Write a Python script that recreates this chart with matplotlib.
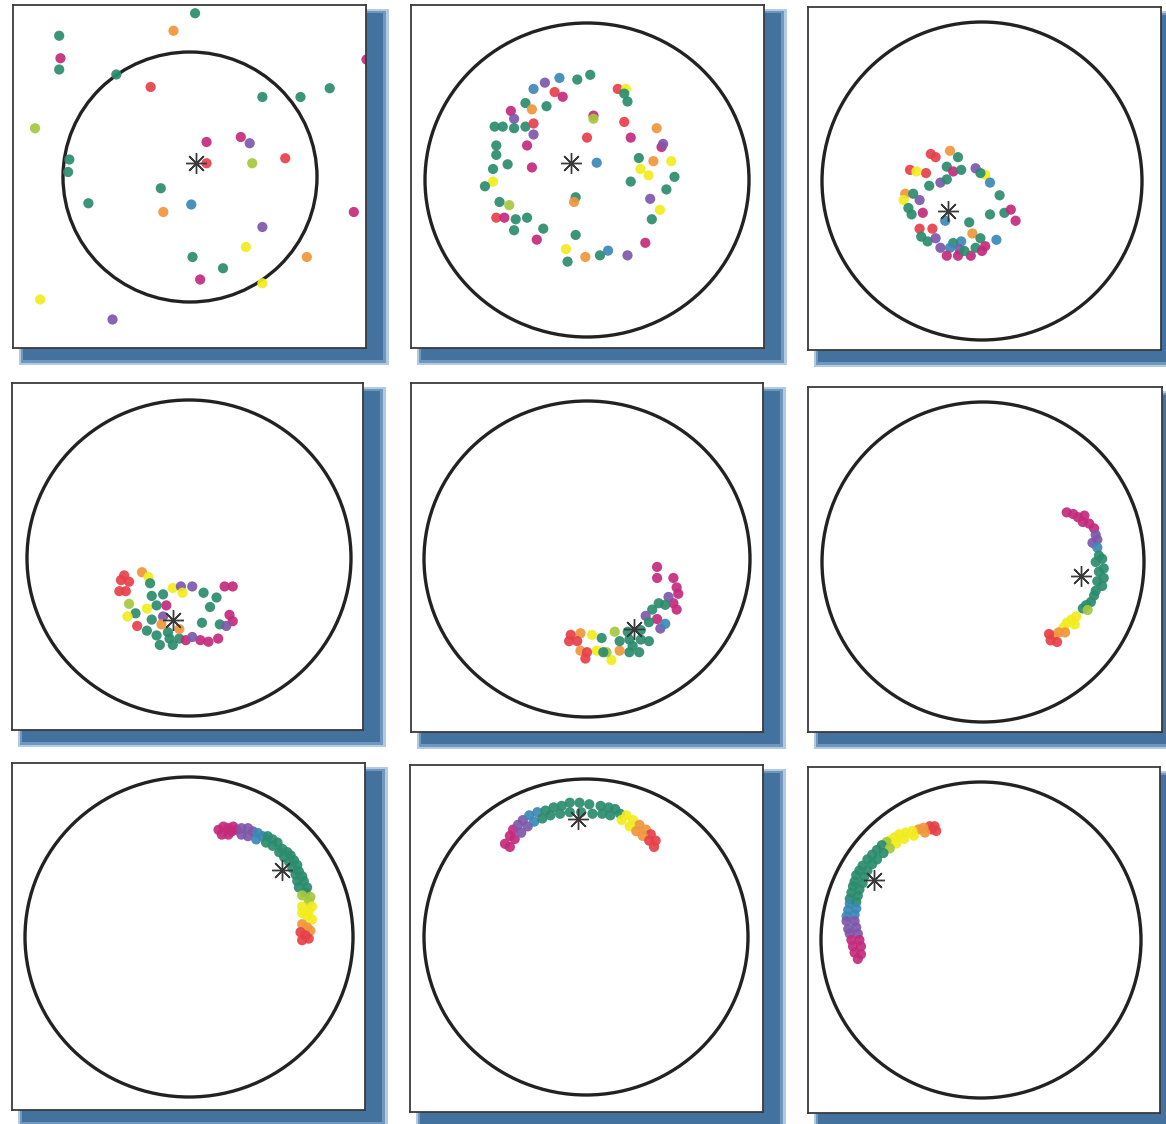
import matplotlib
matplotlib.use("Agg")
import matplotlib.pyplot as plt
from matplotlib.patches import Circle, Rectangle

W, H = 1166, 1124

# цвет точки = собственная частота осциллятора
palette = {
    'r': '#e8404a', 'o': '#f0963c', 'y': '#f2ec1e', 'l': '#a6c83c',
    'g': '#2b8c6e', 'b': '#3b88b5', 'p': '#7e58aa', 'm': '#c42a7c',
}

# ---- данные: положения осцилляторов (единичный круг), по кадрам ----
p1_x = [0.04, -0.13, -1.03, -1.02, -1.03, -0.58, -0.31, 1.39, 1.10, 0.87,
        0.57, -1.22, 0.13, 0.40, 0.47, 0.13, 0.49, 0.75, -0.95, -0.96,
        -0.23, 0.01, -0.21, -0.80, 1.29, 0.57, 0.44, 0.92, 0.02, 0.26,
        0.08, 0.57, -1.18, -0.61]
p1_y = [1.31, 1.17, 1.13, 0.95, 0.86, 0.82, 0.72, 0.94, 0.71, 0.64,
        0.64, 0.39, 0.28, 0.32, 0.27, 0.11, 0.11, 0.15, 0.14, 0.04,
        -0.09, -0.22, -0.28, -0.21, -0.28, -0.40, -0.56, -0.64, -0.64, -0.73,
        -0.82, -0.85, -0.98, -1.14]
p1_c = "gogmggrmggglmmprlrgggbogmpyoggmyyp"

p2_x = [0.02, -0.06, -0.17, -0.26, -0.33, -0.20, -0.15, -0.25, -0.38, -0.34,
        -0.47, -0.45, -0.57, -0.52, -0.45, -0.38, -0.33, -0.33, -0.37, -0.56,
        -0.56, -0.58, -0.49, -0.34, -0.58, -0.63, -0.54, -0.48, -0.56, -0.51,
        -0.44, -0.45, -0.37, -0.27, -0.31, -0.07, -0.13, -0.12, -0.01, 0.08,
        0.13, 0.25, 0.36, 0.40, 0.45, 0.39, 0.49, 0.54, 0.38, 0.33,
        0.27, 0.32, 0.41, 0.52, 0.46, 0.47, 0.43, 0.27, 0.23, 0.25,
        0.19, 0.24, 0.23, 0.04, 0.04, 0.00, 0.06, -0.07, -0.08]
p2_y = [0.67, 0.64, 0.65, 0.62, 0.58, 0.56, 0.53, 0.47, 0.49, 0.45,
        0.44, 0.39, 0.34, 0.34, 0.33, 0.34, 0.36, 0.29, 0.22, 0.22,
        0.16, 0.07, 0.10, 0.08, -0.01, -0.04, -0.14, -0.16, -0.24, -0.24,
        -0.25, -0.32, -0.24, -0.31, -0.38, -0.35, -0.44, -0.52, -0.49, -0.48,
        -0.45, -0.48, -0.40, -0.25, -0.19, -0.12, -0.06, 0.02, 0.03, 0.07,
        -0.01, 0.14, 0.12, 0.12, 0.21, 0.23, 0.33, 0.27, 0.37, 0.50,
        0.58, 0.58, 0.55, 0.41, 0.39, 0.27, 0.11, -0.11, -0.14]
p2_c = ("ggbpbrmggo" "mpggggrpmg" "gggmygglrm" "ggggmgygog"
        "bpmgypggyy" "ggoympomrg" "rygmlrbgo")

p3_x = [-0.32, -0.29, -0.20, -0.15, -0.22, -0.18, -0.13, -0.35, -0.45, -0.41,
        -0.04, 0.02, -0.01, 0.05, -0.26, -0.22, -0.33, -0.48, -0.43, -0.49,
        -0.39, -0.46, -0.44, -0.37, 0.11, 0.05, 0.14, 0.18, 0.21, -0.08,
        -0.23, -0.39, -0.31, -0.38, -0.34, -0.29, -0.06, -0.01, -0.13, -0.18,
        0.09, 0.02, -0.26, -0.20, -0.14, -0.07, -0.22, -0.15, -0.04, -0.11, 0.00]
p3_y = [0.17, 0.15, 0.19, 0.15, 0.09, 0.06, 0.07, 0.05, 0.07, 0.06,
        0.08, 0.04, 0.05, -0.01, -0.01, 0.01, -0.03, -0.08, -0.08, -0.12,
        -0.12, -0.17, -0.21, -0.20, -0.09, -0.21, -0.20, -0.18, -0.25, -0.26,
        -0.25, -0.30, -0.30, -0.35, -0.38, -0.36, -0.33, -0.36, -0.38, -0.39,
        -0.37, -0.41, -0.42, -0.42, -0.43, -0.47, -0.47, -0.47, -0.42, -0.44, -0.44]
p3_c = "rroggmgrry" "pygbpggogy" "pggmgggmmg" "brrggpogbg" "bmpbpmmmggm"

p4_x = [-0.40, -0.42, -0.37, -0.43, -0.39, -0.29, -0.25, -0.24, -0.10, -0.05,
        -0.04, 0.02, 0.09, 0.17, 0.22, 0.27, -0.16, -0.23, -0.37, -0.33,
        -0.26, -0.20, -0.14, 0.13, -0.16, -0.23, -0.38, 0.25, 0.27, 0.08,
        0.19, 0.23, -0.32, -0.17, -0.26, -0.20, -0.12, -0.06, -0.02, 0.07,
        0.12, 0.18, 0.02, -0.06, -0.13, -0.18, -0.10]
p4_y = [-0.11, -0.14, -0.15, -0.21, -0.21, -0.09, -0.12, -0.16, -0.19, -0.18,
        -0.22, -0.18, -0.22, -0.25, -0.18, -0.18, -0.23, -0.24, -0.29, -0.35,
        -0.32, -0.30, -0.30, -0.31, -0.37, -0.39, -0.37, -0.36, -0.40, -0.41,
        -0.42, -0.43, -0.43, -0.42, -0.46, -0.49, -0.51, -0.51, -0.52, -0.52,
        -0.53, -0.51, -0.50, -0.45, -0.47, -0.55, -0.55]
p4_c = "rrrrroygyp" "ypggmmgglg" "ygmgpgymmg" "gproggggmm" "mmpoggg"

p5_x = [0.43, 0.43, 0.53, 0.55, 0.56, 0.53, 0.55, 0.50, 0.44, 0.40,
        0.48, 0.36, 0.43, 0.38, 0.45, 0.48, 0.33, 0.25, 0.26, 0.33,
        0.38, 0.28, 0.26, 0.32, 0.17, 0.09, 0.03, -0.04, -0.10, -0.11,
        -0.06, 0.06, 0.15, 0.12, -0.04, 0.00, 0.10, -0.01, 0.20, 0.20]
p5_y = [-0.05, -0.12, -0.12, -0.18, -0.22, -0.28, -0.32, -0.24, -0.28, -0.32,
        -0.29, -0.36, -0.38, -0.40, -0.44, -0.41, -0.45, -0.46, -0.51, -0.51,
        -0.52, -0.55, -0.59, -0.59, -0.46, -0.50, -0.48, -0.47, -0.48, -0.52,
        -0.52, -0.58, -0.64, -0.59, -0.58, -0.59, -0.59, -0.63, -0.58, -0.52]
p5_c = "mmmmmmmpgg" "gpmgpbgggg" "gggglgyorr" "ryylorgrog"

p6_x = [0.52, 0.56, 0.59, 0.63, 0.62, 0.66, 0.69, 0.70, 0.71, 0.68,
        0.71, 0.72, 0.74, 0.70, 0.75, 0.72, 0.75, 0.71, 0.74, 0.70,
        0.69, 0.67, 0.64, 0.62, 0.65, 0.58, 0.55, 0.52, 0.57, 0.50,
        0.47, 0.51, 0.44, 0.41, 0.42, 0.46]
p6_y = [0.31, 0.30, 0.28, 0.29, 0.25, 0.24, 0.21, 0.17, 0.14, 0.12,
        0.09, 0.04, 0.02, 0.00, -0.04, -0.06, -0.10, -0.12, -0.15, -0.18,
        -0.21, -0.25, -0.27, -0.29, -0.30, -0.34, -0.36, -0.38, -0.39, -0.41,
        -0.44, -0.44, -0.46, -0.45, -0.49, -0.50]
p6_c = "mmmmmmmppp" "bggggggggg" "ggggly" "yyyyooorrr"

p7_x = [0.18, 0.21, 0.24, 0.27, 0.29, 0.26, 0.32, 0.36, 0.39, 0.42,
        0.45, 0.48, 0.51, 0.54, 0.57, 0.60, 0.62, 0.64, 0.66, 0.67,
        0.69, 0.70, 0.72, 0.71, 0.74, 0.73, 0.75, 0.73, 0.72, 0.75,
        0.72, 0.74, 0.71, 0.69, 0.73,
        0.20, 0.24, 0.32, 0.36, 0.41, 0.47, 0.51, 0.55, 0.58, 0.61,
        0.63, 0.65, 0.66, 0.67, 0.69, 0.69, 0.69, 0.69, 0.68]
p7_y = [0.67, 0.69, 0.68, 0.69, 0.67, 0.66, 0.68, 0.68, 0.66, 0.65,
        0.63, 0.63, 0.61, 0.59, 0.55, 0.53, 0.51, 0.48, 0.45, 0.41,
        0.38, 0.35, 0.31, 0.28, 0.25, 0.22, 0.19, 0.16, 0.13, 0.11,
        0.06, 0.04, 0.01, -0.02, -0.01,
        0.64, 0.64, 0.64, 0.63, 0.61, 0.59, 0.57, 0.53, 0.50, 0.47,
        0.43, 0.39, 0.35, 0.31, 0.26, 0.19, 0.15, 0.08, 0.03]
p7_c = ("mmmmmmpppb" "bggggggggg" "ggggllyyyy" "oorrr"
        "mmppbggggg" "ggggly" "yor")

p8_x = [-0.50, -0.47, -0.45, -0.42, -0.39, -0.35, -0.30, -0.25, -0.20, -0.15,
        -0.10, -0.04, 0.02, 0.09, 0.14, 0.18, 0.21, 0.25, 0.29, 0.33,
        0.37, 0.40, 0.43,
        -0.47, -0.44, -0.40, -0.36, -0.32, -0.27, -0.22, -0.16, -0.10, -0.03,
        0.04, 0.10, 0.15, 0.22, 0.27, 0.31, 0.35, 0.39, 0.42]
p8_y = [0.59, 0.64, 0.68, 0.71, 0.74, 0.77, 0.79, 0.80, 0.82, 0.83,
        0.85, 0.85, 0.84, 0.83, 0.82, 0.81, 0.78, 0.77, 0.74, 0.71,
        0.68, 0.65, 0.61,
        0.57, 0.62, 0.66, 0.70, 0.73, 0.75, 0.77, 0.78, 0.79, 0.79,
        0.78, 0.78, 0.77, 0.74, 0.70, 0.67, 0.64, 0.61, 0.57]
p8_c = "mmmppbbggg" "gggggggyy" "oorr" "mmppbggggg" "gggyyoorr"

p9_x = [-0.29, -0.32, -0.31, -0.36, -0.39, -0.43, -0.47, -0.51, -0.54, -0.57,
        -0.59, -0.62, -0.65, -0.68, -0.71, -0.74, -0.76, -0.78, -0.79, -0.80,
        -0.81, -0.82, -0.82, -0.83, -0.84, -0.84, -0.83, -0.82, -0.81, -0.80,
        -0.79, -0.77,
        -0.28, -0.35, -0.42, -0.48, -0.53, -0.57, -0.61, -0.65, -0.68, -0.71,
        -0.73, -0.74, -0.76, -0.77, -0.78, -0.78, -0.79, -0.79, -0.78, -0.77,
        -0.76, -0.75, -0.75]
p9_y = [0.72, 0.72, 0.70, 0.71, 0.70, 0.69, 0.68, 0.67, 0.65, 0.63,
        0.62, 0.60, 0.57, 0.54, 0.51, 0.47, 0.44, 0.41, 0.37, 0.34,
        0.30, 0.26, 0.23, 0.19, 0.15, 0.12, 0.07, 0.04, 0.00, -0.04,
        -0.08, -0.12,
        0.69, 0.68, 0.66, 0.64, 0.61, 0.58, 0.55, 0.51, 0.48, 0.44,
        0.40, 0.36, 0.32, 0.28, 0.24, 0.20, 0.16, 0.12, 0.08, 0.04,
        0.00, -0.04, -0.09]
p9_c = ("rrrooyyyyy" "lggggggggg" "ggbbbpppmm" "mm"
        "royyylgggg" "gggggbbppp" "mmm")

# средний фазовый центр (звёздочка)
centroid_x = [0.05, -0.10, -0.21, -0.10, 0.29, 0.61, 0.57, -0.05, -0.67]
centroid_y = [0.11, 0.11, -0.19, -0.39, -0.44, -0.09, 0.42, 0.75, 0.38]

frames = [(p1_x, p1_y, p1_c), (p2_x, p2_y, p2_c), (p3_x, p3_y, p3_c),
          (p4_x, p4_y, p4_c), (p5_x, p5_y, p5_c), (p6_x, p6_y, p6_c),
          (p7_x, p7_y, p7_c), (p8_x, p8_y, p8_c), (p9_x, p9_y, p9_c)]

# ---- раскладка в пикселях: рамка (left, top, right, bottom) и круг (cx, cy, rx, ry) ----
boxes = [(13, 5, 366, 348), (411, 5, 764, 348), (808, 7, 1161, 350),
         (12, 383, 363, 730), (411, 383, 763, 732), (808, 387, 1162, 732),
         (12, 763, 365, 1110), (410, 765, 763, 1112), (808, 767, 1160, 1113)]
circles = [(190, 177, 127, 125), (587, 180, 162, 157), (982, 181, 160, 159),
           (189, 558, 162, 158), (587, 559, 163, 158), (983, 562, 161, 160),
           (189, 937, 164, 160), (586, 937, 162, 158), (981, 940, 160, 158)]

fig = plt.figure(figsize=(W / 100, H / 100), dpi=100)
fig.patch.set_facecolor('white')

for k, ((xs, ys, cs), box, circ) in enumerate(zip(frames, boxes, circles)):
    assert len(xs) == len(ys) == len(cs), (k, len(xs), len(ys), len(cs))
    l, t, r, b = box
    cx, cy, rx, ry = circ

    # тень под рамкой
    for d0, d1, col in [((6, 4), (23, 17), '#b4cae0'),
                        ((8, 6), (20, 15), '#6f97c0'),
                        ((10, 8), (17, 12), '#44729f')]:
        x0, y0 = l + d0[0], t + d0[1]
        x1, y1 = r + d1[0], b + d1[1]
        fig.patches.append(Rectangle((x0 / W, 1 - y1 / H), (x1 - x0) / W, (y1 - y0) / H,
                                     transform=fig.transFigure, facecolor=col,
                                     edgecolor='none', zorder=-1))

    ax = fig.add_axes([l / W, 1 - b / H, (r - l) / W, (b - t) / H])
    ax.set_xlim((l - cx) / rx, (r - cx) / rx)
    ax.set_ylim((cy - b) / ry, (cy - t) / ry)
    ax.set_facecolor('white')
    ax.set_xticks([])
    ax.set_yticks([])
    for s in ax.spines.values():
        s.set_color('#3a3a3a')
        s.set_linewidth(1.3)

    ax.add_patch(Circle((0, 0), 1.0, fill=False, edgecolor='#222222', lw=2.4, zorder=1))

    ax.scatter(xs, ys, c=[palette[ch] for ch in cs], s=54, edgecolors='none',
               alpha=0.92, zorder=2)

    ax.plot(centroid_x[k], centroid_y[k], marker=(8, 2, 0), ms=15, mew=1.0,
            color='#3a3a3a', zorder=3)

fig.savefig('out.png', dpi=100)
